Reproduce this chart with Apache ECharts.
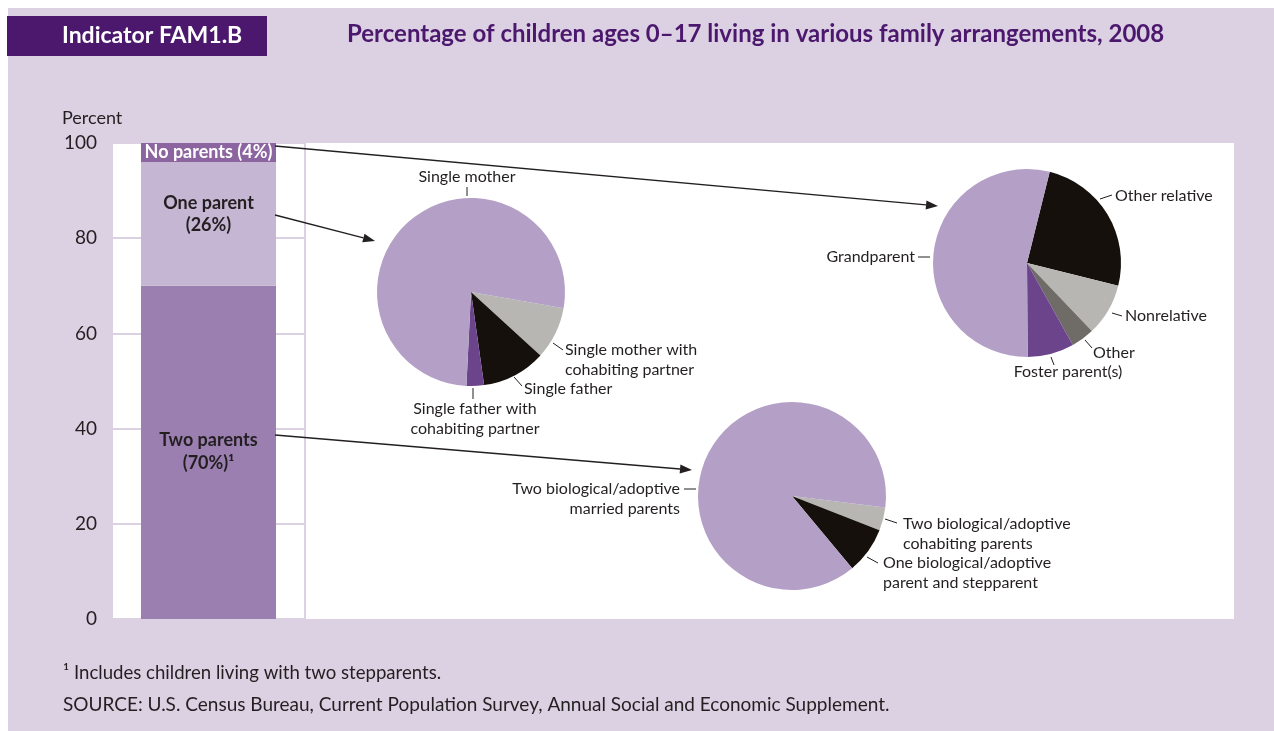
<!DOCTYPE html>
<html>
<head>
<meta charset="utf-8">
<title>FAM1.B</title>
<script src="https://cdn.jsdelivr.net/npm/echarts@6/dist/echarts.min.js"></script>
<style>
    html, body { margin: 0; padding: 0; background: #fff; }
    #chart { width: 1274px; height: 731px; }
</style>
</head>
<body>
<div id="chart"></div>
<script>
    // stacked bar: share of children by family arrangement
    var barCategories = ['2008'];
    var twoParents = [70];
    var oneParent = [26];
    var noParents = [4];
    var yTicks = [0, 20, 40, 60, 80, 100];

    // one parent breakdown
    var onePNames = ['Single mother with cohabiting partner', 'Single father', 'Single father with cohabiting partner', 'Single mother'];
    var onePLabels = ['Single mother with\ncohabiting partner', 'Single father', 'Single father with\ncohabiting partner', 'Single mother'];
    var onePValues = [9, 11, 3, 77];

    // no parents breakdown
    var noPNames = ['Other relative', 'Nonrelative', 'Other', 'Foster parent(s)', 'Grandparent'];
    var noPValues = [25, 9, 4, 8, 54];

    // two parents breakdown
    var twoPNames = ['Two biological/adoptive cohabiting parents', 'One biological/adoptive parent and stepparent', 'Two biological/adoptive married parents'];
    var twoPLabels = ['Two biological/adoptive\ncohabiting parents', 'One biological/adoptive\nparent and stepparent', 'Two biological/adoptive\nmarried parents'];
    var twoPValues = [4, 8, 88];

    var FONT = 'Lato';
    var INK = '#231f20';
    var LAV = '#dcd0e3';
    var DEEP = '#4b186d';

    // label spots for the pies (x, y, align, tick line)
    var onePSpots = [
        { x: 565, y: 360, align: 'left', line: [[553, 343], [563, 350]] },
        { x: 524, y: 389, align: 'left', line: [[514, 377], [522, 386]] },
        { x: 475, y: 419, align: 'center', line: [[473, 388], [473, 399]] },
        { x: 467, y: 177, align: 'center', line: [[467, 187], [467, 196]] }
    ];
    var noPSpots = [
        { x: 1115, y: 196, align: 'left', line: [[1100, 199], [1112, 195]] },
        { x: 1125, y: 316, align: 'left', line: [[1112, 313], [1122, 316]] },
        { x: 1093, y: 353, align: 'left', line: [[1085, 340], [1092, 348]] },
        { x: 1068, y: 372, align: 'center', line: [[1051, 357], [1054, 365]] },
        { x: 915, y: 257, align: 'right', line: [[918, 257], [930, 257]] }
    ];
    var twoPSpots = [
        { x: 903, y: 534, align: 'left', line: [[885, 519], [897, 523]] },
        { x: 883, y: 573, align: 'left', line: [[867, 557], [878, 563]] },
        { x: 680, y: 499, align: 'right', line: [[684, 489], [696, 489]] }
    ];

    function spotLayout(spots) {
        return function (params) {
            var s = spots[params.dataIndex];
            return {
                x: s.x, y: s.y, align: s.align, verticalAlign: 'middle',
                labelLinePoints: [s.line[0], s.line[1], s.line[1]]
            };
        };
    }

    function pieData(names, values, colors, labels) {
        return names.map(function (n, i) {
            return {
                name: n, value: values[i],
                itemStyle: { color: colors[i] },
                label: { formatter: labels ? labels[i] : n }
            };
        });
    }

    function pieSeries(center, startAngle, data, spots) {
        return {
            type: 'pie',
            center: center,
            radius: 94,
            startAngle: startAngle,
            clockwise: true,
            silent: true,
            avoidLabelOverlap: false,
            itemStyle: { borderWidth: 0 },
            label: {
                show: true, position: 'outside', color: INK,
                fontFamily: FONT, fontSize: 16, lineHeight: 20
            },
            labelLine: { show: true, lineStyle: { color: INK, width: 1 } },
            labelLayout: spotLayout(spots),
            data: data
        };
    }

    // arrows from bar segments to pies
    var arrows = [
        [[275, 146], [938, 206]],
        [[275, 215], [375, 241]],
        [[275, 435], [692, 470]]
    ];

    function arrowGraphics() {
        var out = [];
        arrows.forEach(function (a) {
            var p0 = a[0], p1 = a[1];
            var dx = p1[0] - p0[0], dy = p1[1] - p0[1];
            var len = Math.sqrt(dx * dx + dy * dy);
            var ux = dx / len, uy = dy / len;
            var hl = 12, hw = 4.5;
            var bx = p1[0] - ux * hl, by = p1[1] - uy * hl;
            out.push({
                type: 'line', z: 50,
                shape: { x1: p0[0], y1: p0[1], x2: bx, y2: by },
                style: { stroke: INK, lineWidth: 1.3 }
            });
            out.push({
                type: 'polygon', z: 50,
                shape: { points: [p1, [bx - uy * hw, by + ux * hw], [bx + uy * hw, by - ux * hw]] },
                style: { fill: INK }
            });
        });
        return out;
    }

    var chart = echarts.init(document.getElementById('chart'));

    var option = {
        animation: false,
        backgroundColor: '#fff',
        textStyle: { fontFamily: FONT },
        grid: {
            left: 113, top: 143, width: 191, height: 476,
            show: true, backgroundColor: '#fff', borderWidth: 0
        },
        xAxis: {
            type: 'category',
            data: barCategories,
            axisLine: { show: false },
            axisTick: { show: false },
            axisLabel: { show: false }
        },
        yAxis: {
            type: 'value',
            min: yTicks[0],
            max: yTicks[yTicks.length - 1],
            interval: 20,
            axisLine: { show: false },
            axisTick: { show: false },
            axisLabel: { color: INK, fontSize: 19, margin: 16, fontFamily: FONT },
            splitLine: { lineStyle: { color: LAV, width: 2 } }
        },
        graphic: [
            { type: 'rect', z: -10, silent: true, shape: { x: 8, y: 8, width: 1266, height: 723 }, style: { fill: LAV } },
            { type: 'rect', z: -5, silent: true, shape: { x: 306, y: 143, width: 928, height: 476 }, style: { fill: '#fff' } },
            { type: 'rect', z: 1, silent: true, shape: { x: 7, y: 16, width: 260, height: 40 }, style: { fill: DEEP } },
            { type: 'text', z: 2, x: 62, y: 36, style: { text: 'Indicator FAM1.B', fill: '#fff', font: 'bold 23px ' + FONT, verticalAlign: 'middle' } },
            { type: 'text', z: 2, x: 347, y: 34, style: { text: 'Percentage of children ages 0\u201317 living in various family arrangements, 2008', fill: DEEP, font: 'bold 24px ' + FONT, verticalAlign: 'middle' } },
            { type: 'text', z: 2, x: 62, y: 118, style: { text: 'Percent', fill: INK, font: '18px ' + FONT, verticalAlign: 'middle' } },
            { type: 'text', z: 2, x: 63, y: 673, style: { text: '\u00b9 Includes children living with two stepparents.', fill: INK, font: '18.6px ' + FONT, verticalAlign: 'middle' } },
            { type: 'text', z: 2, x: 63, y: 705, style: { text: 'SOURCE: U.S. Census Bureau, Current Population Survey, Annual Social and Economic Supplement.', fill: INK, font: '19px ' + FONT, verticalAlign: 'middle' } }
        ].concat(arrowGraphics()),
        series: [
            {
                name: 'Two parents', type: 'bar', stack: 'total', barWidth: 135,
                itemStyle: { color: '#9a7fb0' },
                label: {
                    show: true, position: ['50%', 143], align: 'center', verticalAlign: 'top',
                    formatter: 'Two parents\n({c}%)\u00b9', color: INK, fontWeight: 'bold',
                    fontSize: 18, lineHeight: 23, fontFamily: FONT
                },
                data: twoParents
            },
            {
                name: 'One parent', type: 'bar', stack: 'total',
                itemStyle: { color: '#c5b6d3' },
                label: {
                    show: true, position: ['50%', 30], align: 'center', verticalAlign: 'top',
                    formatter: 'One parent\n({c}%)', color: INK, fontWeight: 'bold',
                    fontSize: 18, lineHeight: 22, fontFamily: FONT
                },
                data: oneParent
            },
            {
                name: 'No parents', type: 'bar', stack: 'total',
                itemStyle: { color: '#8b64a0' },
                label: {
                    show: true, position: 'inside', formatter: 'No parents ({c}%)',
                    color: '#fff', fontWeight: 'bold', fontSize: 18, fontFamily: FONT
                },
                data: noParents
            },
            pieSeries([471, 292], 350, pieData(onePNames, onePValues, ['#b7b6b2', '#15100c', '#6b448c', '#b4a0c6'], onePLabels), onePSpots),
            pieSeries([1027, 263], 76, pieData(noPNames, noPValues, ['#15100c', '#b7b6b2', '#6f6b67', '#6b448c', '#b4a0c6']), noPSpots),
            pieSeries([792, 496], 353, pieData(twoPNames, twoPValues, ['#b7b6b2', '#15100c', '#b4a0c6'], twoPLabels), twoPSpots)
        ]
    };

    chart.setOption(option);
</script>
</body>
</html>
